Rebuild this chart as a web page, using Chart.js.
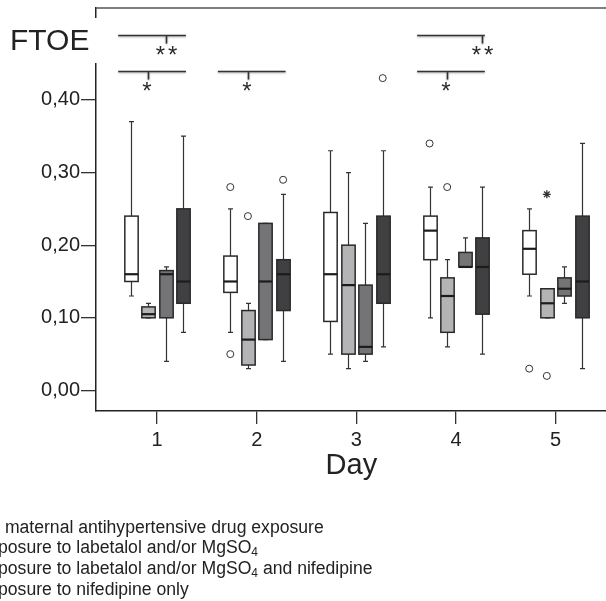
<!DOCTYPE html>
<html lang="en">
<head>
<meta charset="UTF-8">
<title>FTOE by day</title>
<script src="https://cdn.jsdelivr.net/npm/chart.js"></script>
<style>
  html, body { margin: 0; padding: 0; background: #fff; overflow: hidden; }
  #wrap { position: relative; width: 612px; height: 601px; }
</style>
</head>
<body>
<div id="wrap"><canvas id="ftoeChart"></canvas></div>
<script>
const days = [1, 2, 3, 4, 5];
const ftoeTicks = [0, 0.1, 0.2, 0.3, 0.4];

const groupNames = [
  'No maternal antihypertensive drug exposure',
  'Exposure to labetalol and/or MgSO₄',
  'Exposure to labetalol and/or MgSO₄ and nifedipine',
  'Exposure to nifedipine only'
];

// one row per day: [min, q1, median, q3, max]
const noExposure = [
  [0.13, 0.15, 0.16, 0.24, 0.37],
  [0.08, 0.135, 0.15, 0.185, 0.25],
  [0.05, 0.095, 0.16, 0.245, 0.33],
  [0.10, 0.18, 0.22, 0.24, 0.28],
  [0.13, 0.16, 0.195, 0.22, 0.25]
];
const labetalolMg = [
  [0.10, 0.10, 0.105, 0.115, 0.12],
  [0.03, 0.035, 0.07, 0.11, 0.12],
  [0.03, 0.05, 0.145, 0.20, 0.30],
  [0.06, 0.08, 0.13, 0.155, 0.18],
  [0.10, 0.10, 0.12, 0.14, 0.14]
];
const labetalolMgNifedipine = [
  [0.04, 0.10, 0.16, 0.165, 0.17],
  [0.07, 0.07, 0.15, 0.23, 0.23],
  [0.04, 0.05, 0.06, 0.145, 0.23],
  [0.17, 0.17, 0.17, 0.19, 0.21],
  [0.12, 0.13, 0.14, 0.155, 0.17]
];
const nifedipineOnly = [
  [0.08, 0.12, 0.15, 0.25, 0.35],
  [0.04, 0.11, 0.16, 0.18, 0.27],
  [0.06, 0.12, 0.16, 0.24, 0.33],
  [0.05, 0.105, 0.17, 0.21, 0.28],
  [0.03, 0.10, 0.15, 0.24, 0.34]
];
const boxStats = [noExposure, labetalolMg, labetalolMgNifedipine, nifedipineOnly];

// outliers (circles) and the one extreme value (star)
const outlierDay   = [2, 2, 2, 2, 3, 4, 4, 5, 5];
const outlierGroup = [0, 0, 1, 3, 3, 0, 1, 0, 1];
const outlierValue = [0.28, 0.05, 0.24, 0.29, 0.43, 0.34, 0.28, 0.03, 0.02];
const extremeDay   = [5];
const extremeGroup = [1];
const extremeValue = [0.27];

// significance brackets against the unexposed group
const bracketDay   = [1, 1, 2, 4, 4];
const bracketLevel = [0.49, 0.44, 0.44, 0.49, 0.44];
const bracketGroup = [2, 1, 1, 3, 1];
const bracketLabel = ['**', '*', '*', '**', '*'];

const FONT = '"Liberation Sans", Arial, sans-serif';
const groupFills = ['#ffffff', '#b4b4b6', '#747477', '#404042'];
const groupOffsets = [-0.265, -0.088, 0.088, 0.265];
const BOX_W = 0.134;
const CAP_W = 0.05;

Chart.defaults.font.family = FONT;
Chart.defaults.color = '#222';

const xAt = (d, g) => d + groupOffsets[g];

const boxPlots = {
  id: 'boxPlots',
  beforeDatasetsDraw(chart) {
    const { ctx, scales: { x, y } } = chart;
    const half = (x.getPixelForValue(BOX_W) - x.getPixelForValue(0)) / 2;
    const cap = (x.getPixelForValue(CAP_W) - x.getPixelForValue(0)) / 2;
    ctx.save();
    boxStats.forEach((rows, g) => {
      rows.forEach((s, d) => {
        const [min, q1, med, q3, max] = s;
        const cx = Math.round(x.getPixelForValue(xAt(days[d], g))) + 0.5;
        const yMin = y.getPixelForValue(min), yQ1 = y.getPixelForValue(q1);
        const yMed = y.getPixelForValue(med), yQ3 = y.getPixelForValue(q3);
        const yMax = y.getPixelForValue(max);

        ctx.strokeStyle = '#333';
        ctx.lineWidth = 1.2;
        ctx.beginPath();
        ctx.moveTo(cx, yMax); ctx.lineTo(cx, yQ3);
        ctx.moveTo(cx, yQ1); ctx.lineTo(cx, yMin);
        ctx.moveTo(cx - cap, yMax); ctx.lineTo(cx + cap, yMax);
        ctx.moveTo(cx - cap, yMin); ctx.lineTo(cx + cap, yMin);
        ctx.stroke();

        ctx.fillStyle = groupFills[g];
        ctx.fillRect(cx - half, yQ3, half * 2, yQ1 - yQ3);
        ctx.strokeStyle = '#2a2a2a';
        ctx.lineWidth = 1.5;
        ctx.strokeRect(cx - half, yQ3, half * 2, yQ1 - yQ3);

        ctx.strokeStyle = '#1c1c1c';
        ctx.lineWidth = 2.2;
        ctx.beginPath();
        ctx.moveTo(cx - half, yMed); ctx.lineTo(cx + half, yMed);
        ctx.stroke();
      });
    });
    ctx.restore();
  }
};

// frame top, FTOE label, brackets and the group key below the axis
const notes = {
  id: 'notes',
  afterDraw(chart) {
    const { ctx, chartArea: area, scales: { x, y } } = chart;
    ctx.save();

    ctx.strokeStyle = '#555';
    ctx.lineWidth = 1.5;
    ctx.beginPath();
    ctx.moveTo(area.left, area.top); ctx.lineTo(area.right, area.top);
    ctx.stroke();

    ctx.fillStyle = '#fff';
    ctx.fillRect(4, 18, 96, 45);
    ctx.fillStyle = '#222';
    ctx.font = '30px ' + FONT;
    ctx.textBaseline = 'middle';
    ctx.textAlign = 'left';
    ctx.fillText('FTOE', 10, 42);

    bracketDay.forEach((d, i) => {
      const yy = Math.round(y.getPixelForValue(bracketLevel[i])) + 0.5;
      const x1 = x.getPixelForValue(d - 0.39);
      const x2 = x.getPixelForValue(d + 0.29);
      const tx = Math.round(x.getPixelForValue(xAt(d, bracketGroup[i]))) + 0.5;
      ctx.save();
      ctx.shadowColor = 'rgba(0,0,0,0.35)';
      ctx.shadowBlur = 2;
      ctx.shadowOffsetY = 1;
      ctx.strokeStyle = '#333';
      ctx.lineWidth = 1.6;
      ctx.beginPath();
      ctx.moveTo(x1, yy); ctx.lineTo(x2, yy);
      ctx.moveTo(tx, yy); ctx.lineTo(tx, yy + 8);
      ctx.stroke();
      ctx.restore();
      ctx.fillStyle = '#2a2a2a';
      ctx.font = '24px ' + FONT;
      ctx.textAlign = 'center';
      ctx.textBaseline = 'middle';
      ctx.letterSpacing = '3px';
      ctx.fillText(bracketLabel[i], tx + (bracketLabel[i].length > 1 ? 1.5 : 0), yy + 21);
      ctx.letterSpacing = '0px';
    });

    ctx.fillStyle = '#222';
    ctx.textAlign = 'left';
    ctx.textBaseline = 'middle';
    groupNames.forEach((name, i) => {
      const ly = 528 + i * 20.6;
      let lx = -22.5;
      name.split('₄').forEach((part, j) => {
        if (j > 0) {
          ctx.font = '12px ' + FONT;
          ctx.fillText('4', lx, ly + 4);
          lx += ctx.measureText('4').width;
        }
        ctx.font = '17.6px ' + FONT;
        ctx.fillText(part, lx, ly);
        lx += ctx.measureText(part).width;
      });
    });
    ctx.restore();
  }
};

const outlierPoints = outlierDay.map((d, i) => ({ x: xAt(d, outlierGroup[i]), y: outlierValue[i] }));
const extremePoints = extremeDay.map((d, i) => ({ x: xAt(d, extremeGroup[i]), y: extremeValue[i] }));

new Chart(document.getElementById('ftoeChart'), {
  type: 'scatter',
  data: {
    datasets: [
      {
        label: 'Outliers',
        data: outlierPoints,
        pointStyle: 'circle',
        pointRadius: 3.5,
        borderWidth: 1,
        borderColor: '#333',
        backgroundColor: '#fff'
      },
      {
        label: 'Extremes',
        data: extremePoints,
        pointStyle: 'star',
        pointRadius: 4,
        borderWidth: 1.3,
        borderColor: '#333',
        backgroundColor: '#333'
      }
    ]
  },
  options: {
    responsive: true,
    maintainAspectRatio: false,
    animation: false,
    layout: { padding: { top: 8, right: 0, bottom: 0, left: 0 } },
    plugins: { legend: { display: false }, tooltip: { enabled: false } },
    scales: {
      x: {
        type: 'linear',
        min: 0.387,
        max: 5.513,
        afterBuildTicks: s => { s.ticks = days.map(v => ({ value: v })); },
        afterFit: s => { s.height = 190; s.paddingLeft = 0; s.paddingRight = 0; },
        grid: { display: true, drawOnChartArea: false, drawTicks: true, tickLength: 13, color: '#333', lineWidth: 1.3 },
        border: { display: true, color: '#222', width: 1.5 },
        ticks: { color: '#222', font: { size: 20 }, padding: 4, maxRotation: 0, callback: v => String(v) },
        title: { display: true, text: 'Day', color: '#222', font: { size: 29 }, padding: { top: 0, bottom: 118 } }
      },
      y: {
        min: -0.0283,
        max: 0.5265,
        afterBuildTicks: s => { s.ticks = ftoeTicks.map(v => ({ value: v })); },
        afterFit: s => { s.width = 96; s.paddingTop = 0; s.paddingBottom = 0; },
        grid: { display: true, drawOnChartArea: false, drawTicks: true, tickLength: 15, color: '#333', lineWidth: 1.3 },
        border: { display: true, color: '#222', width: 1.5 },
        ticks: { color: '#222', font: { size: 20 }, padding: 1, callback: v => v.toFixed(2).replace('.', ',') }
      }
    }
  },
  plugins: [boxPlots, notes]
});
</script>
</body>
</html>
